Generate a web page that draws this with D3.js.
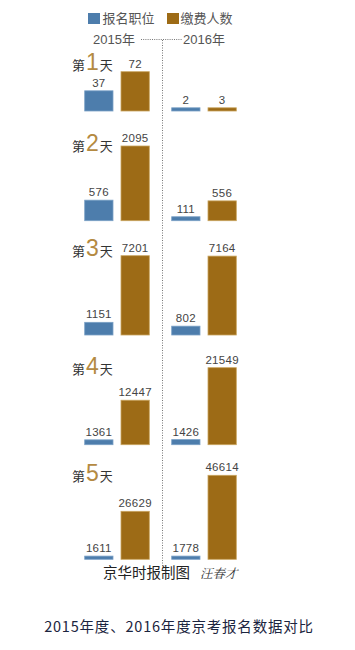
<!DOCTYPE html>
<html><head><meta charset="utf-8">
<script src="https://cdn.jsdelivr.net/npm/d3@7"></script>
<style>body{margin:0;background:#fff;}svg{display:block;}</style>
</head><body>
<svg id="c" width="355" height="650"></svg>
<script>
const days = ["1","2","3","4","5"];
const years = ["2015年","2016年"];
const legendLabels = ["报名职位","缴费人数"];
const posts2015 = [37, 576, 1151, 1361, 1611];
const payers2015 = [72, 2095, 7201, 12447, 26629];
const posts2016 = [2, 111, 802, 1426, 1778];
const payers2016 = [3, 556, 7164, 21549, 46614];
const credit = "京华时报制图";
const author = "汪春才";
const caption = "2015年度、2016年度京考报名数据对比";

const svg = d3.select("#c");
const BLUE = "#4d7dac", BROWN = "#9d6b16";
const font = "'Liberation Sans', Arial, 'Noto Sans CJK SC', sans-serif";

// panel layout: baseline and top of tallest bar
const panels = [
  {base:111, top:71.7},
  {base:220.7, top:146},
  {base:335, top:255.7},
  {base:444.7, top:367.7},
  {base:559.3, top:475.3}
];
const keys = ["p15","f15","p16","f16"];
const xpos = {p15:84.7, f15:121, p16:171.7, f16:208};
const bw = 28.3;

// legend
const lg = svg.append("g");
lg.append("rect").attr("x",88).attr("y",13).attr("width",12).attr("height",11).attr("fill",BLUE);
lg.append("text").attr("x",102.5).attr("y",23).attr("font-size",13).attr("fill","#555").attr("font-family",font).text(legendLabels[0]);
lg.append("rect").attr("x",167).attr("y",13).attr("width",12).attr("height",11).attr("fill",BROWN);
lg.append("text").attr("x",180.5).attr("y",23).attr("font-size",13).attr("fill","#555").attr("font-family",font).text(legendLabels[1]);

// year headers
svg.append("text").attr("x",93).attr("y",44).attr("font-size",13).attr("fill","#555").attr("font-family",font).text(years[0]);
svg.append("text").attr("x",183).attr("y",44).attr("font-size",13).attr("fill","#555").attr("font-family",font).text(years[1]);
svg.append("line").attr("x1",141).attr("x2",182).attr("y1",39.5).attr("y2",39.5)
  .attr("stroke","#777").attr("stroke-width",1).attr("stroke-dasharray","1,1.2");
svg.append("line").attr("x1",162.5).attr("x2",162.5).attr("y1",40).attr("y2",566)
  .attr("stroke","#777").attr("stroke-width",1).attr("stroke-dasharray","1,1.5");

const dayLabelY = [70, 151, 256, 374, 481];

days.forEach((d,i)=>{
  const P = panels[i];
  const maxV = d3.max([posts2015[i],payers2015[i],posts2016[i],payers2016[i]]);
  const y = d3.scaleLinear().domain([0,maxV]).range([P.base,P.top]);
  const vals = [
    {k:"p15",v:posts2015[i],c:BLUE,s:"#7aa0c6"},
    {k:"f15",v:payers2015[i],c:BROWN,s:"#c9a45e"},
    {k:"p16",v:posts2016[i],c:BLUE,s:"#7aa0c6"},
    {k:"f16",v:payers2016[i],c:BROWN,s:"#c9a45e"}
  ];
  const g = svg.append("g");
  vals.forEach(o=>{
    let top = y(o.v);
    if (P.base - top < 3.2) top = P.base - 3.2;
    g.append("rect").attr("x",xpos[o.k]).attr("y",top).attr("width",bw).attr("height",P.base-top)
      .attr("fill",o.c).attr("stroke",o.s).attr("stroke-width",0.8);
    g.append("text").attr("x",xpos[o.k]+bw/2).attr("y",top-4).attr("text-anchor","middle")
      .attr("font-size",11.5).attr("letter-spacing",0.3).attr("fill","#444").attr("font-family",font).text(o.v);
  });
  const t = svg.append("text").attr("x",72).attr("y",dayLabelY[i]).attr("font-family",font).attr("fill","#333");
  t.append("tspan").attr("font-size",13).text("第");
  t.append("tspan").attr("font-size",23).attr("fill","#b48a42").attr("dx",1).text(d);
  t.append("tspan").attr("font-size",13).attr("dx",1).text("天");
});

svg.append("text").attr("x",103).attr("y",578).attr("font-size",14.5).attr("fill","#222").attr("font-family",font).text(credit);
svg.append("text").attr("x",200).attr("y",578).attr("font-size",12.5).attr("fill","#333").attr("font-style","italic")
  .attr("font-family","'Noto Serif CJK SC','Noto Sans CJK SC',serif").text(author);

svg.append("text").attr("x",179).attr("y",632).attr("text-anchor","middle").attr("font-size",14.5)
  .attr("letter-spacing",0.8)
  .attr("fill","#1c2540").attr("font-family","'Noto Sans CJK SC', sans-serif").text(caption);
</script>
</body></html>
